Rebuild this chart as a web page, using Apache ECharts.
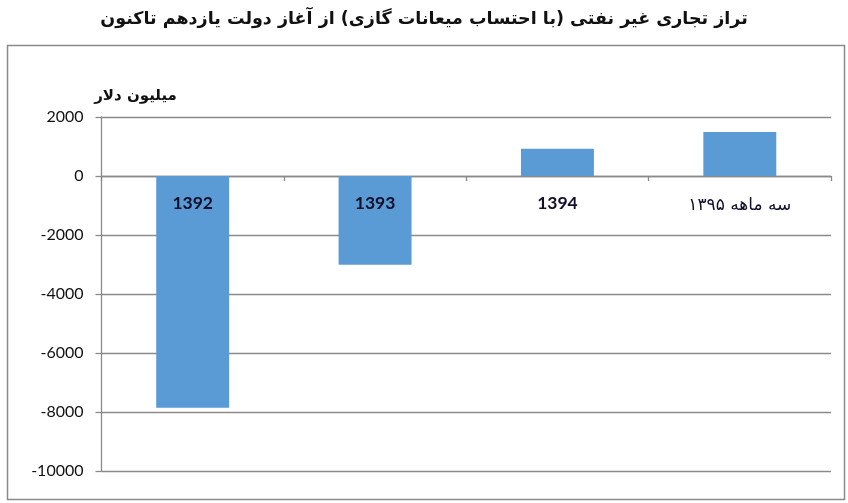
<!DOCTYPE html>
<html><head><meta charset="utf-8">
<script src="https://cdn.jsdelivr.net/npm/echarts@6/dist/echarts.min.js"></script>
<style>html,body{margin:0;padding:0;background:#fff}#c{width:848px;height:503px}</style>
</head><body><div id="c"></div>
<script>
const titleText = 'تراز تجاری غیر نفتی (با احتساب میعانات گازی) از آغاز دولت یازدهم تاکنون';
const unitLabel = 'میلیون دلار';
const categories = ['1392', '1393', '1394', 'سه ماهه ۱۳۹۵'];
const values = [-7860, -3010, 920, 1490];
const yMin = -10000, yMax = 2000, yStep = 2000;

const gridTop = 117, gridBottom = 32, H = 503;
const plotH = H - gridTop - gridBottom;
const zeroOffset = plotH * (yMax - 0) / (yMax - yMin);

const chart = echarts.init(document.getElementById('c'));
chart.setOption({
  animation: false,
  backgroundColor: '#fff',
  title: {
    text: titleText, left: 'center', top: 5,
    textStyle: { fontFamily: '"DejaVu Sans"', fontWeight: 'bold', fontSize: 17.5, color: '#111' }
  },
  graphic: [{
    type: 'rect', left: 5, top: 43, silent: true,
    shape: { width: 837, height: 454 },
    style: { fill: 'none', stroke: '#8a8a8a', lineWidth: 1.5 }
  }],
  grid: { left: 101.5, right: 17, top: gridTop, bottom: gridBottom },
  xAxis: [{
    type: 'category', data: categories,
    axisLine: { onZero: true, lineStyle: { color: '#8a8a8a', width: 1.3 } },
    axisTick: { show: true, length: 5, inside: false, lineStyle: { color: '#8a8a8a', width: 1.3 } },
    axisLabel: { show: false }
  }, {
    type: 'category', data: categories, position: 'top', offset: -zeroOffset, z: 20,
    axisLine: { show: false }, axisTick: { show: false },
    axisLabel: {
      inside: true, margin: 18, interval: 0, hideOverlap: false,
      fontFamily: 'Lato, "DejaVu Sans"', fontWeight: 'bold', fontSize: 17.5, color: '#10102a',
      formatter: v => /^\d+$/.test(v) ? v : '{n|' + v + '}',
      rich: { n: { fontFamily: '"DejaVu Sans"', fontWeight: 'normal', fontSize: 17, color: '#10102a', padding: [3, 0, 0, 0] } }
    }
  }],
  yAxis: {
    type: 'value', min: yMin, max: yMax, interval: yStep,
    name: unitLabel, nameLocation: 'end', nameGap: 13,
    nameTextStyle: { fontFamily: '"DejaVu Sans"', fontWeight: 'bold', fontSize: 15, color: '#111', align: 'center', padding: [0, 0, 0, 68] },
    axisLine: { show: true, lineStyle: { color: '#8a8a8a', width: 1.3 } },
    axisTick: { show: true, length: 6, lineStyle: { color: '#8a8a8a', width: 1.3 } },
    splitLine: { show: true, lineStyle: { color: '#8a8a8a', width: 1.3 } },
    axisLabel: { margin: 18, fontFamily: 'Lato, "Liberation Sans"', fontSize: 16, color: '#111', formatter: v => String(v) }
  },
  series: [{
    type: 'bar', data: values, barWidth: '40%', xAxisIndex: 0,
    itemStyle: { color: '#5b9bd5' }
  }]
});
</script></body></html>
